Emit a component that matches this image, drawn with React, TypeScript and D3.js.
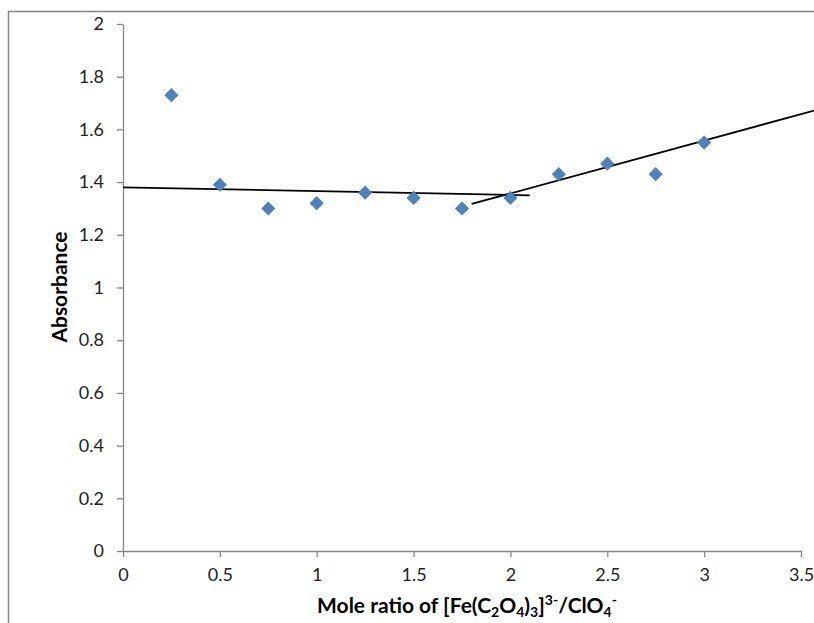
import * as d3 from 'd3';
import { useEffect, useRef } from 'react';

// measured points
const ratio = [0.25, 0.5, 0.75, 1.0, 1.25, 1.5, 1.75, 2.0, 2.25, 2.5, 2.75, 3.0];
const absorbance = [1.73, 1.39, 1.30, 1.32, 1.36, 1.34, 1.30, 1.34, 1.43, 1.47, 1.43, 1.55];

// hand-drawn fit lines [x, y]
const flatLine: [number, number][] = [[0, 1.38], [2.1, 1.35]];
const riseLine: [number, number][] = [[1.8, 1.317], [3.57, 1.672]];

const xTicks = [0, 0.5, 1, 1.5, 2, 2.5, 3, 3.5];
const yTicks = [0, 0.2, 0.4, 0.6, 0.8, 1, 1.2, 1.4, 1.6, 1.8, 2];

export default function App() {
    const ref = useRef<SVGSVGElement>(null);

    useEffect(() => {
        const svg = d3.select(ref.current);
        svg.selectAll('*').remove();

        const font = 'Lato, "Open Sans", sans-serif';
        const axisColor = '#868686';

        const x = d3.scaleLinear().domain([0, 3.5]).range([123, 801]);
        const y = d3.scaleLinear().domain([0, 2]).range([551, 24]);

        // outer chart frame
        svg.append('rect')
            .attr('x', 8.5).attr('y', 11.5)
            .attr('width', 900).attr('height', 700)
            .attr('fill', 'none')
            .attr('stroke', axisColor)
            .attr('stroke-width', 1.5);

        const yAxis = svg.append('g')
            .attr('transform', 'translate(123,0)')
            .call(d3.axisLeft(y).tickValues(yTicks).tickSize(6).tickSizeOuter(0).tickFormat(d => String(d)));
        yAxis.select('.domain').attr('stroke', axisColor).attr('stroke-width', 1.3);
        yAxis.selectAll('.tick line').attr('stroke', axisColor).attr('stroke-width', 1.3);
        yAxis.selectAll('.tick text')
            .attr('x', -19)
            .attr('font-family', font).attr('font-size', 18).attr('fill', '#222');

        const xAxis = svg.append('g')
            .attr('transform', 'translate(0,551)')
            .call(d3.axisBottom(x).tickValues(xTicks).tickSize(6).tickSizeOuter(0).tickFormat(d => String(d)));
        xAxis.select('.domain').attr('stroke', axisColor).attr('stroke-width', 1.3);
        xAxis.selectAll('.tick line').attr('stroke', axisColor).attr('stroke-width', 1.3);
        xAxis.selectAll('.tick text')
            .attr('y', 17)
            .attr('font-family', font).attr('font-size', 18).attr('fill', '#222');

        const line = d3.line<[number, number]>().x(d => x(d[0])).y(d => y(d[1]));
        [flatLine, riseLine].forEach(l => {
            svg.append('path')
                .attr('d', line(l))
                .attr('fill', 'none')
                .attr('stroke', '#000')
                .attr('stroke-width', 1.8);
        });

        const diamond = d3.symbol().type(d3.symbolSquare).size(100);
        svg.append('g')
            .selectAll('path')
            .data(ratio.map((r, i) => [r, absorbance[i]]))
            .join('path')
            .attr('d', diamond())
            .attr('transform', d => `translate(${x(d[0])},${y(d[1])}) rotate(45)`)
            .attr('fill', '#4F81BD');

        svg.append('text')
            .attr('transform', 'translate(67,287) rotate(-90)')
            .attr('text-anchor', 'middle')
            .attr('font-family', font).attr('font-size', 21).attr('font-weight', 'bold')
            .text('Absorbance');

        const xt = svg.append('text')
            .attr('x', 467).attr('y', 613)
            .attr('text-anchor', 'middle')
            .attr('font-family', font).attr('font-size', 21).attr('font-weight', 'bold');
        xt.append('tspan').text('Mole ratio of [Fe(C');
        xt.append('tspan').attr('font-size', 14).attr('dy', 4).text('2');
        xt.append('tspan').attr('dy', -4).text('O');
        xt.append('tspan').attr('font-size', 14).attr('dy', 4).text('4');
        xt.append('tspan').attr('dy', -4).text(')');
        xt.append('tspan').attr('font-size', 14).attr('dy', 4).text('3');
        xt.append('tspan').attr('dy', -4).text(']');
        xt.append('tspan').attr('font-size', 14).attr('dy', -8).text('3-');
        xt.append('tspan').attr('dy', 8).text('/ClO');
        xt.append('tspan').attr('font-size', 14).attr('dy', 4).text('4');
        xt.append('tspan').attr('font-size', 14).attr('dy', -12).text('-');
    }, []);

    return (
        <svg ref={ref} width={814} height={623}
            style={{ position: 'absolute', left: 0, top: 0, background: '#fff' }} />
    );
}
